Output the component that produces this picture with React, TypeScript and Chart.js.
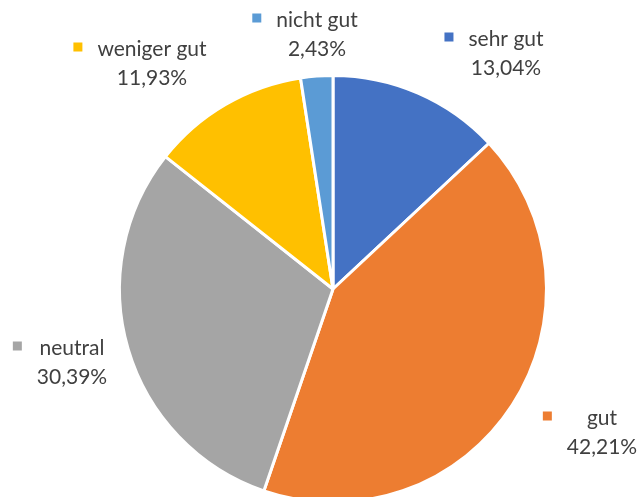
import React, { useEffect, useRef } from "react";
import { Chart, registerables } from "chart.js";

Chart.register(...registerables);

const categories = ["sehr gut", "gut", "neutral", "weniger gut", "nicht gut"];
const values = [13.04, 42.21, 30.39, 11.93, 2.43];
const valueLabels = ["13,04%", "42,21%", "30,39%", "11,93%", "2,43%"];
const colors = ["#4472C4", "#ED7D31", "#A5A5A5", "#FFC000", "#5B9BD5"];

// label block placement: center x of text lines, baseline y of first line
const labelCenterX = [506, 602, 72, 152, 317];
const labelBaselineY = [46, 425, 355, 56, 27];

const FONT = "21px Lato, 'Open Sans', sans-serif";
const TEXT_COLOR = "#404040";

const labelPlugin = {
  id: "outerLabels",
  afterDraw(chart: any) {
    const ctx = chart.ctx;
    const meta = chart.getDatasetMeta(0);
    ctx.save();
    ctx.font = FONT;
    ctx.textBaseline = "alphabetic";
    ctx.textAlign = "center";
    meta.data.forEach((arc: any, i: number) => {
      const cx = labelCenterX[i];
      const y1 = labelBaselineY[i];
      const y2 = y1 + 28.5;
      const l1 = categories[i];
      const l2 = valueLabels[i];
      const w = Math.max(ctx.measureText(l1).width, ctx.measureText(l2).width);
      const left = cx - w / 2;
      ctx.fillStyle = arc.options.backgroundColor;
      ctx.fillRect(left - 15 - 9, y1 - 9 - 4.5, 9, 9);
      ctx.fillStyle = TEXT_COLOR;
      ctx.fillText(l1, cx, y1);
      ctx.fillText(l2, cx, y2);
    });
    ctx.restore();
  },
};

export default function App() {
  const ref = useRef<HTMLCanvasElement | null>(null);
  useEffect(() => {
    document.body.style.margin = "0";
    const chart = new Chart(ref.current!, {
      type: "pie",
      data: {
        labels: categories,
        datasets: [
          {
            data: values,
            backgroundColor: colors,
            borderColor: "#ffffff",
            borderWidth: 3,
          },
        ],
      },
      options: {
        animation: false,
        responsive: false,
        layout: { padding: { left: 118, right: 93, top: 74, bottom: 6 } },
        plugins: {
          legend: { display: false },
          tooltip: { enabled: false },
        },
      },
      plugins: [labelPlugin],
    });
    return () => chart.destroy();
  }, []);
  return (
    <div style={{ position: "absolute", left: 0, top: 0, width: 641, height: 497, overflow: "hidden", background: "#fff" }}>
      <canvas ref={ref} width={641} height={510} style={{ display: "block" }} />
    </div>
  );
}
